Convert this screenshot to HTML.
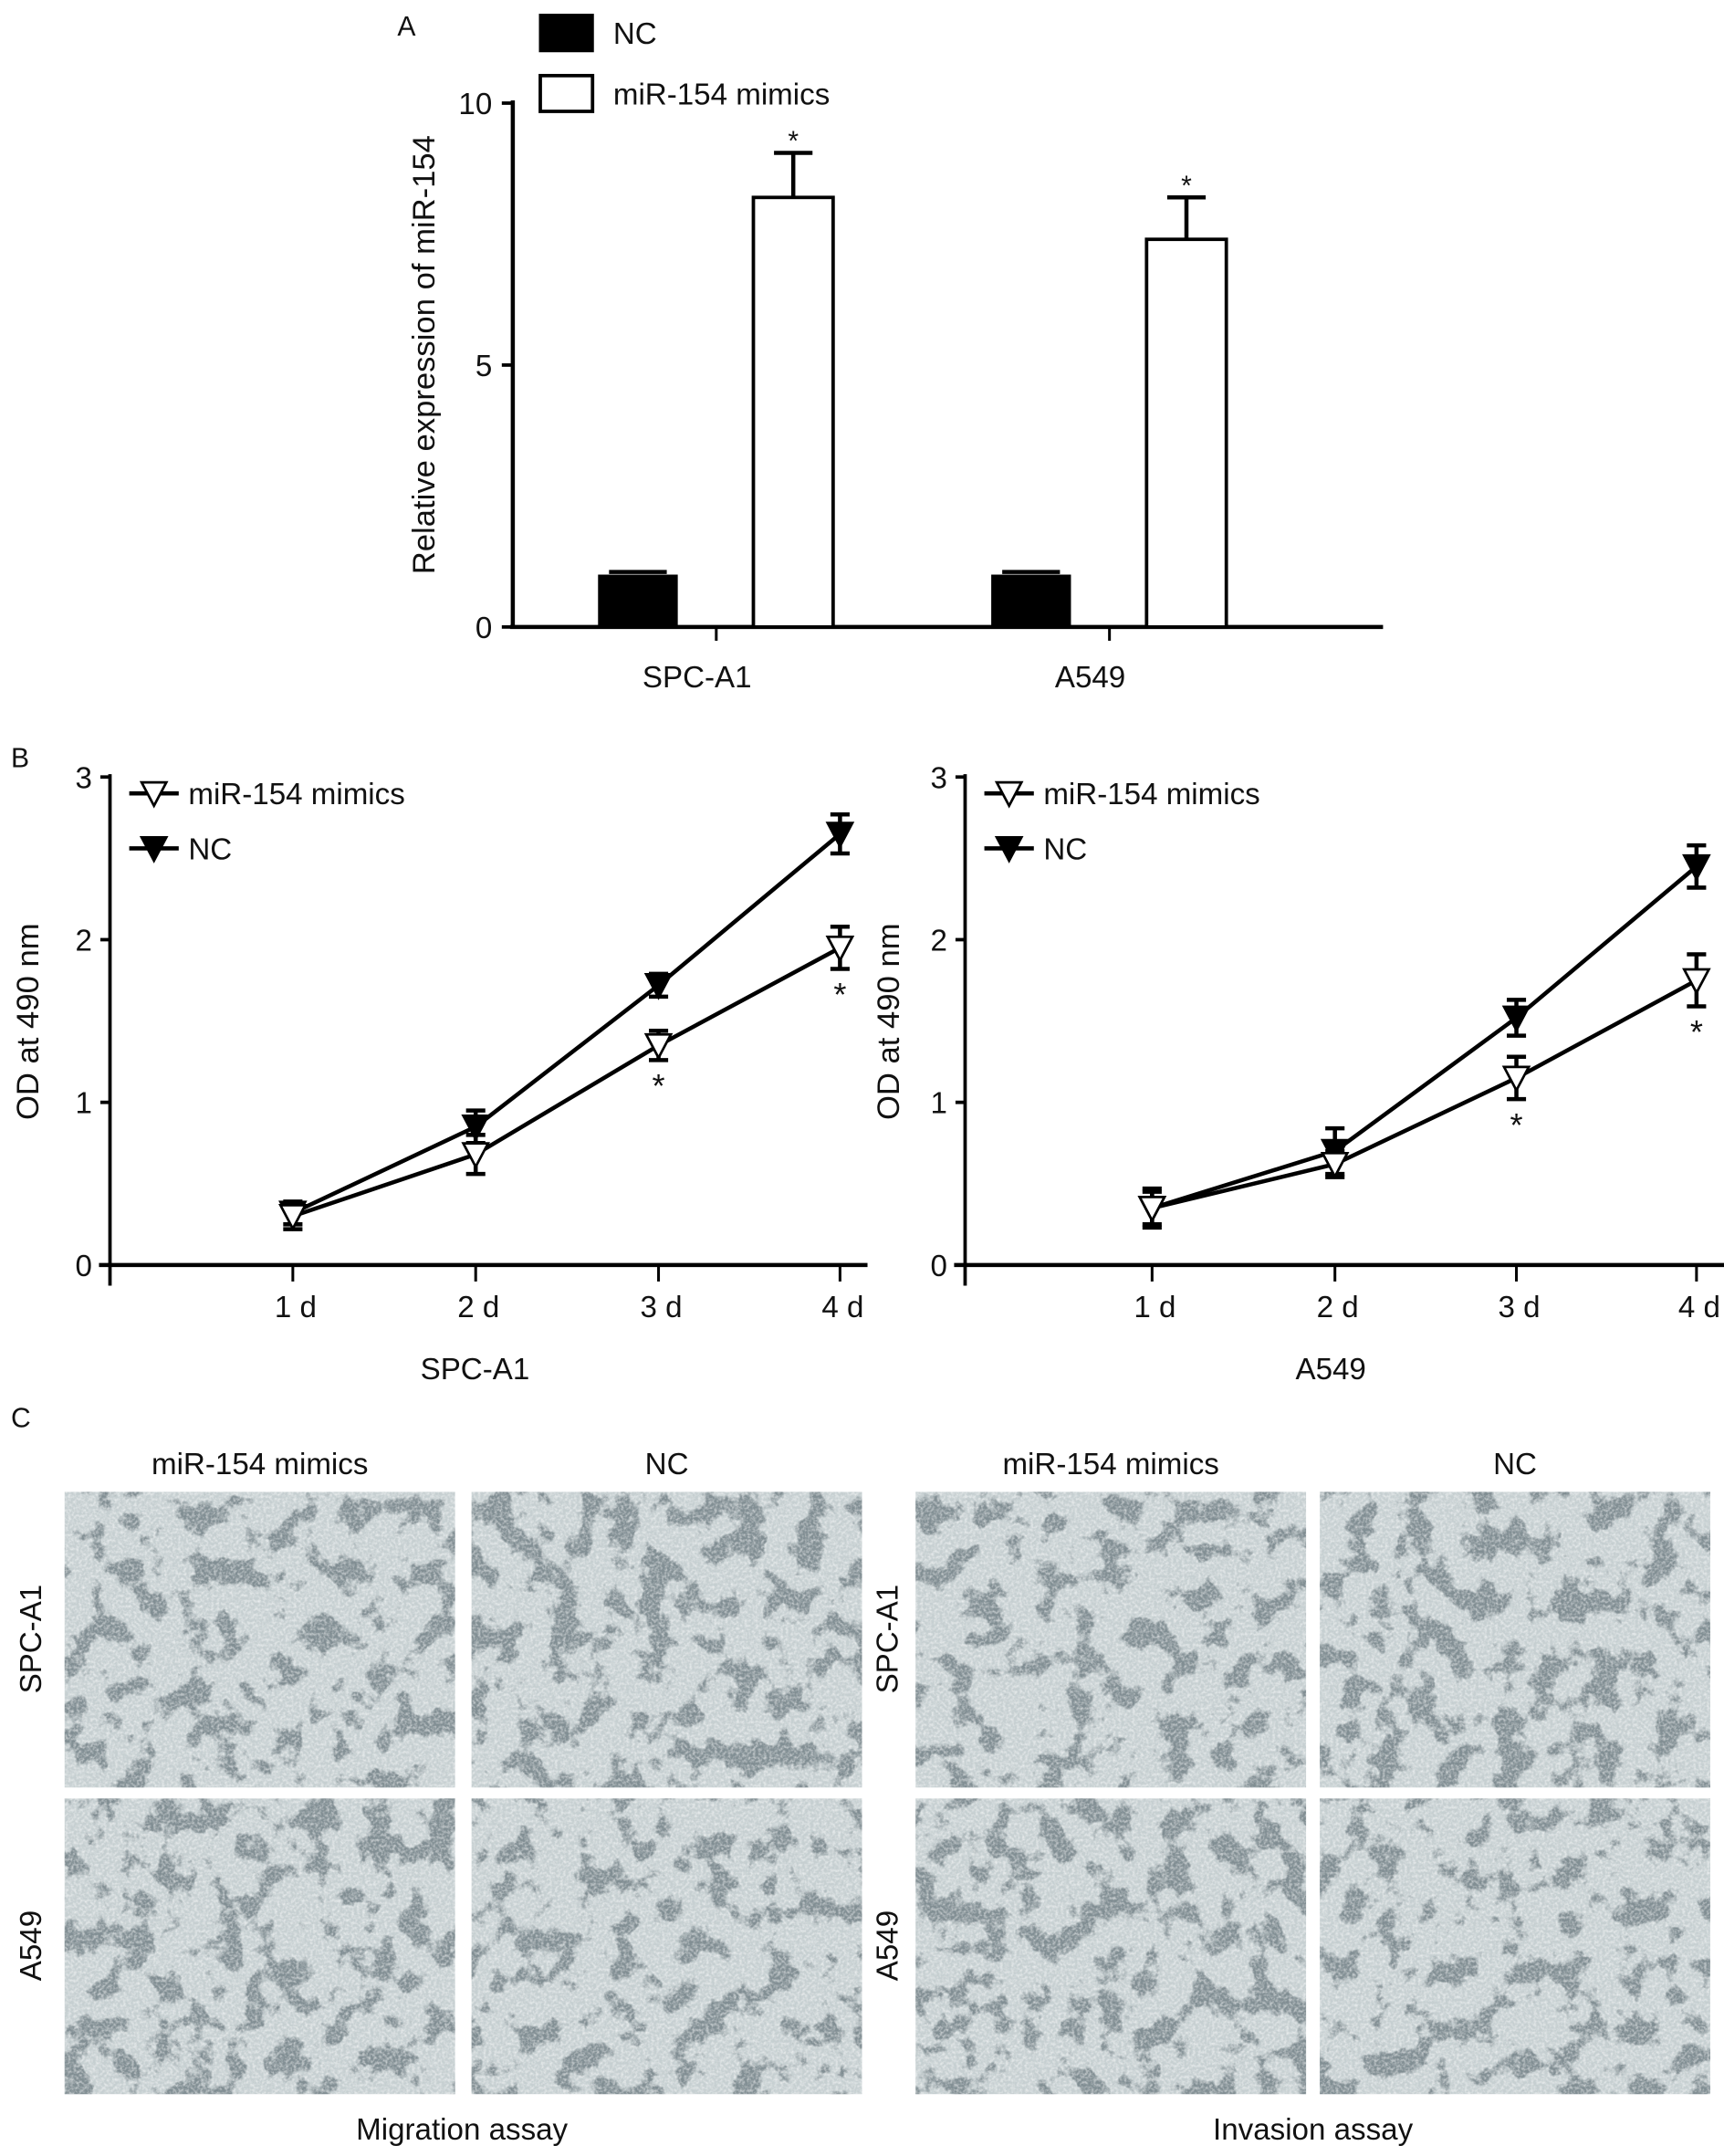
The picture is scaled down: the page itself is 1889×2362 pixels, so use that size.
<!DOCTYPE html>
<html><head><meta charset="utf-8"><style>
html,body{margin:0;padding:0;background:#fff}
svg{display:block}
text{font-family:"Liberation Sans",sans-serif;fill:#111}
</style></head><body>
<svg id="fig" width="1889" height="2362" viewBox="0 0 1254 1568" preserveAspectRatio="none" xmlns="http://www.w3.org/2000/svg">
<defs>
<filter id="blobs" x="0" y="0" width="100%" height="100%">
<feTurbulence type="fractalNoise" baseFrequency="0.045" numOctaves="4" seed="3" result="n"/>
<feColorMatrix in="n" type="matrix" values="0 0 0 0 0.22  0 0 0 0 0.27  0 0 0 0 0.29  -10 0 0 0 4.9" result="d"/>
<feComposite in="d" in2="SourceGraphic" operator="in"/>
</filter>
<filter id="blobs2" x="0" y="0" width="100%" height="100%">
<feTurbulence type="fractalNoise" baseFrequency="0.045" numOctaves="4" seed="11" result="n"/>
<feColorMatrix in="n" type="matrix" values="0 0 0 0 0.22  0 0 0 0 0.27  0 0 0 0 0.29  -10 0 0 0 4.7" result="d"/>
<feComposite in="d" in2="SourceGraphic" operator="in"/>
</filter>
<filter id="grain" x="0" y="0" width="100%" height="100%">
<feTurbulence type="fractalNoise" baseFrequency="0.5" numOctaves="2" seed="5" result="n"/>
<feColorMatrix in="n" type="matrix" values="0 0 0 0 1  0 0 0 0 1  0 0 0 0 1  1.2 0 0 0 -0.45" result="d"/>
<feComposite in="d" in2="SourceGraphic" operator="in"/>
</filter>
</defs>
<g id="pa"></g>
<g id="pb1"></g>
<g id="pb2"></g>
<g id="pc"></g>
</svg>
<script>
// Panel A data
const aCategories = ["SPC-A1", "A549"];
const aNC = [1.0, 1.0];
const aNCErr = [0.05, 0.05];
const aMimics = [8.2, 7.4];
const aMimicsErr = [0.85, 0.8];
const aTicks = [0, 5, 10];
// Panel B data
const bDays = ["1 d", "2 d", "3 d", "4 d"];
const bTicks = [0, 1, 2, 3];
const spcMimics = [0.30, 0.68, 1.35, 1.95];
const spcMimicsErr = [0.08, 0.12, 0.09, 0.13];
const spcNC = [0.32, 0.85, 1.72, 2.65];
const spcNCErr = [0.07, 0.10, 0.07, 0.12];
const a549Mimics = [0.35, 0.62, 1.15, 1.75];
const a549MimicsErr = [0.10, 0.08, 0.13, 0.16];
const a549NC = [0.35, 0.70, 1.52, 2.45];
const a549NCErr = [0.12, 0.14, 0.11, 0.13];
const spcStars = [false, false, true, true];
const a549Stars = [false, false, true, true];

const NS = "http://www.w3.org/2000/svg";
function mk(parent, tag, attrs, txt) {
  const e = document.createElementNS(NS, tag);
  for (const k in attrs) e.setAttribute(k, attrs[k]);
  if (txt !== undefined) e.textContent = txt;
  parent.appendChild(e);
  return e;
}

// ---------- Panel A ----------
(function () {
  const g = document.getElementById("pa");
  const y = v => 456 - v * 38.1;
  const cx = [521, 807];
  let t = mk(g, "text", {x: 289, y: 26, "font-size": 20}, "A");
  
  
  let ax = mk(g, "line", {x1: 373, y1: 73, x2: 373, y2: 457, stroke: "#000", "stroke-width": 3});
  
  
  let xa = mk(g, "line", {x1: 371, y1: 456, x2: 1006, y2: 456, stroke: "#000", "stroke-width": 3});
  
  
  aTicks.forEach(v => {
    let l = mk(g, "line", {x1: 365, y1: y(v), x2: 373, y2: y(v), stroke: "#000", "stroke-width": 2.5});
    
    
    let tt = mk(g, "text", {x: 358, y: y(v) + 8, "font-size": 22, "text-anchor": "end"}, String(v));
    
    
  });
  let yl = mk(g, "text", {x: 0, y: 0, "font-size": 23, "text-anchor": "middle", transform: "translate(316,258) rotate(-90)"}, "Relative expression of miR-154");
  
  
  aCategories.forEach((c, i) => {
    let l = mk(g, "line", {x1: cx[i], y1: 456, x2: cx[i], y2: 466, stroke: "#000", "stroke-width": 2});
    
    
    let tl = mk(g, "text", {x: cx[i] - 14, y: 500, "font-size": 22, "text-anchor": "middle"}, c);
    
    
    const x1 = cx[i] - 86, x2 = cx[i] + 27, w = 58;
    let b = mk(g, "rect", {x: x1, y: y(aNC[i]), width: w, height: 456 - y(aNC[i]), fill: "#000"});
    
    
    let e1 = mk(g, "line", {x1: x1 + 8, y1: y(aNC[i] + aNCErr[i]), x2: x1 + w - 8, y2: y(aNC[i] + aNCErr[i]), stroke: "#000", "stroke-width": 3});
    
    
    let b2 = mk(g, "rect", {x: x2, y: y(aMimics[i]), width: w, height: 456 - y(aMimics[i]), fill: "#fff", stroke: "#000", "stroke-width": 2.5});
    
    
    let top = y(aMimics[i] + aMimicsErr[i]);
    let e2 = mk(g, "path", {d: `M${x2 + w / 2} ${y(aMimics[i])}V${top}M${x2 + w / 2 - 14} ${top}H${x2 + w / 2 + 14}`, stroke: "#000", "stroke-width": 3, fill: "none"});
    
    
    let s = mk(g, "text", {x: x2 + w / 2, y: top - 2, "font-size": 20, "text-anchor": "middle"}, "*");
    
    
  });
  let lg1 = mk(g, "rect", {x: 392, y: 10, width: 40, height: 28, fill: "#000"});
  
  
  let lt1 = mk(g, "text", {x: 446, y: 32, "font-size": 22}, "NC");
  
  
  let lg2 = mk(g, "rect", {x: 393, y: 55, width: 38, height: 26, fill: "#fff", stroke: "#000", "stroke-width": 2.5});
  
  
  let lt2 = mk(g, "text", {x: 446, y: 76, "font-size": 22}, "miR-154 mimics");
  
  
})();

// ---------- Panel B ----------
function lineChart(id, x0, xs, title, mim, mimE, nc, ncE, stars, letter, titleX) {
  const g = document.getElementById(id);
  const y = v => 920 - v * 118.3;
  const xEnd = xs[3] + 20;
  if (letter) {
    let t = mk(g, "text", {x: 8, y: 558, "font-size": 20}, letter);
    
    
  }
  let ya = mk(g, "line", {x1: x0, y1: 563, x2: x0, y2: 935, stroke: "#000", "stroke-width": 2.5});
  
  
  let xa = mk(g, "line", {x1: x0 - 8, y1: 920, x2: xEnd, y2: 920, stroke: "#000", "stroke-width": 3});
  
  
  bTicks.forEach(v => {
    let l = mk(g, "line", {x1: x0 - 7, y1: y(v), x2: x0, y2: y(v), stroke: "#000", "stroke-width": 2.5});
    
    
    let tt = mk(g, "text", {x: x0 - 13, y: y(v) + 8, "font-size": 22, "text-anchor": "end"}, String(v));
    
    
  });
  let yl = mk(g, "text", {x: 0, y: 0, "font-size": 23, "text-anchor": "middle", transform: `translate(${titleX},743) rotate(-90)`}, "OD at 490 nm");
  
  
  bDays.forEach((d, i) => {
    let l = mk(g, "line", {x1: xs[i], y1: 920, x2: xs[i], y2: 932, stroke: "#000", "stroke-width": 2});
    
    
    let tl = mk(g, "text", {x: xs[i] + 2, y: 958, "font-size": 22, "text-anchor": "middle"}, d);
    
    
  });
  let xt = mk(g, "text", {x: (x0 + xEnd) / 2 - 10, y: 1003, "font-size": 22, "text-anchor": "middle"}, title);
  
  
  function series(vals, errs, filled, name) {
    let p = mk(g, "polyline", {points: vals.map((v, i) => xs[i] + "," + y(v)).join(" "), fill: "none", stroke: "#000", "stroke-width": 3});
    
    
    vals.forEach((v, i) => {
      const t = y(v + errs[i]), b = y(v - errs[i]);
      let e = mk(g, "path", {d: `M${xs[i]} ${t}V${b}M${xs[i] - 7} ${t}H${xs[i] + 7}M${xs[i] - 7} ${b}H${xs[i] + 7}`, stroke: "#000", "stroke-width": 3, fill: "none"});
      
      
      const cy = y(v);
      let m = mk(g, "path", {d: `M${xs[i] - 9} ${cy - 8}L${xs[i] + 9} ${cy - 8}L${xs[i]} ${cy + 9}Z`, fill: filled ? "#000" : "#fff", stroke: "#000", "stroke-width": 1.8});
      
      
    });
  }
  series(nc, ncE, true, "nc");
  series(mim, mimE, false, "mimics");
  stars.forEach((s, i) => {
    if (!s) return;
    let st = mk(g, "text", {x: xs[i], y: y(mim[i] - mimE[i]) + 27, "font-size": 24, "text-anchor": "middle"}, "*");
    
    
  });
  [["miR-154 mimics", false, 577], ["NC", true, 617]].forEach(([lab, f, ly]) => {
    let l = mk(g, "line", {x1: x0 + 14, y1: ly, x2: x0 + 50, y2: ly, stroke: "#000", "stroke-width": 3});
    
    
    let m = mk(g, "path", {d: `M${x0 + 23} ${ly - 8}L${x0 + 41} ${ly - 8}L${x0 + 32} ${ly + 9}Z`, fill: f ? "#000" : "#fff", stroke: "#000", "stroke-width": 1.8});
    
    
    let t = mk(g, "text", {x: x0 + 57, y: ly + 8, "font-size": 22}, lab);
    
    
  });
}
lineChart("pb1", 80, [213, 346, 479, 611], "SPC-A1", spcMimics, spcMimicsErr, spcNC, spcNCErr, spcStars, "B", 28);
lineChart("pb2", 702, [838, 971, 1103, 1234], "A549", a549Mimics, a549MimicsErr, a549NC, a549NCErr, a549Stars, null, 654);

// ---------- Panel C ----------
(function () {
  const g = document.getElementById("pc");
  let c = mk(g, "text", {x: 8, y: 1038, "font-size": 20}, "C");
  
  
  const cols = [47, 343, 666, 960], w = 284;
  const rows = [1085, 1308], h = 215;
  const heads = ["miR-154 mimics", "NC", "miR-154 mimics", "NC"];
  cols.forEach((x, i) => {
    let t = mk(g, "text", {x: x + w / 2, y: 1072, "font-size": 22, "text-anchor": "middle"}, heads[i]);
    
    
    rows.forEach((yy, j) => {
      let r = mk(g, "rect", {x: x, y: yy, width: w, height: h, fill: "#c6cfd1"});
      
      
      let d = mk(g, "rect", {x: x, y: yy, width: w, height: h, fill: "#000", filter: (i + j) % 2 ? "url(#blobs)" : "url(#blobs2)"});
      
      
      let gr = mk(g, "rect", {x: x, y: yy, width: w, height: h, fill: "#000", filter: "url(#grain)"});
      
      
    });
  });
  [[22, "SPC-A1", 1192], [22, "A549", 1415], [645, "SPC-A1", 1192], [645, "A549", 1415]].forEach(([x, lab, cy]) => {
    let t = mk(g, "text", {x: 0, y: 0, "font-size": 22, "text-anchor": "middle", transform: `translate(${x + 8},${cy}) rotate(-90)`}, lab);
    
    
  });
  let m = mk(g, "text", {x: 336, y: 1556, "font-size": 22, "text-anchor": "middle"}, "Migration assay");
  
  
  let iv = mk(g, "text", {x: 955, y: 1556, "font-size": 22, "text-anchor": "middle"}, "Invasion assay");
  
  
})();
</script>
</body></html>
